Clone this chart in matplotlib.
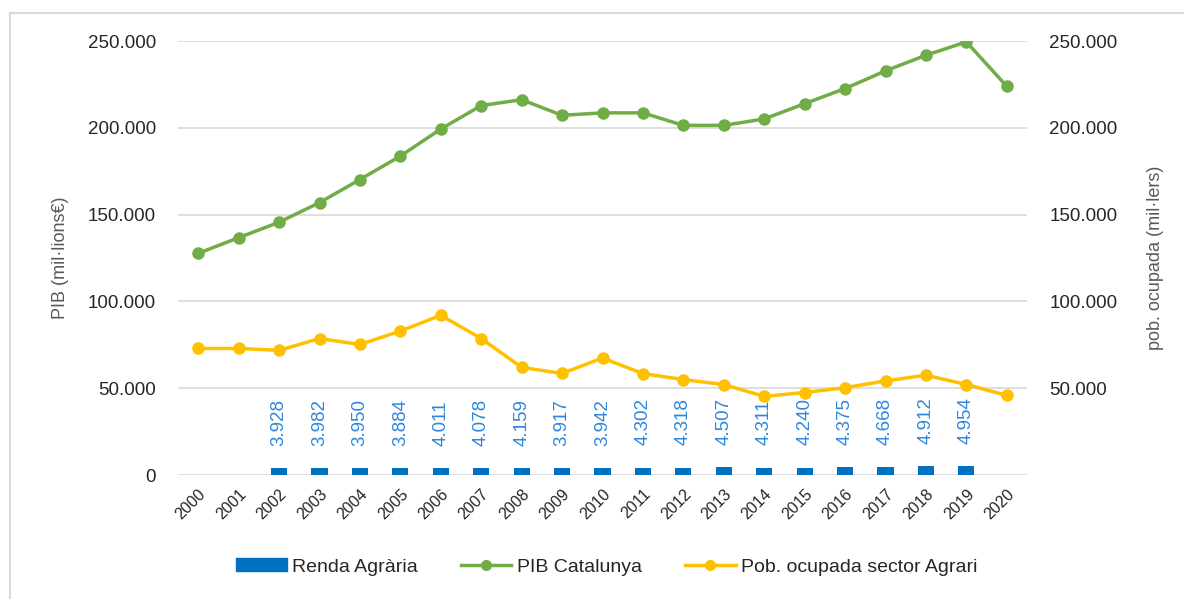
import matplotlib.pyplot as plt
from matplotlib.lines import Line2D
from matplotlib.ticker import FuncFormatter

# ---------------------------
# Data
# ---------------------------
years = [str(y) for y in range(2000, 2021)]

pib_catalunya = [127.7, 136.7, 145.6, 156.9, 170.2, 183.7, 199.3, 212.8, 216.2, 207.2,
                 208.6, 208.6, 201.4, 201.4, 205.1, 213.9, 222.6, 232.8, 241.8, 249.5, 223.9]
pib_catalunya = [v * 1000 for v in pib_catalunya]

pob_ocupada = [72.9, 72.9, 71.8, 78.6, 75.2, 82.9, 92.0, 78.6, 62.0, 58.5,
               67.4, 58.4, 55.0, 52.1, 45.3, 47.5, 50.3, 54.2, 57.5, 52.1, 45.9]
pob_ocupada = [v * 1000 for v in pob_ocupada]

renda_years = [str(y) for y in range(2002, 2020)]
renda_agraria = [3928, 3982, 3950, 3884, 4011, 4078, 4159, 3917, 3942, 4302,
                 4318, 4507, 4311, 4240, 4375, 4668, 4912, 4954]

# ---------------------------
# Style
# ---------------------------
plt.rcParams['font.family'] = ['Liberation Sans', 'DejaVu Sans']
BLUE = '#0070C0'
LABEL_BLUE = '#2E86DE'
GREEN = '#70AD47'
YELLOW = '#FFC000'
GRID = '#D9D9D9'
TXT = '#262626'
AXLAB = '#595959'


def thousands(v, pos=None):
    return f"{int(round(v)):,}".replace(',', '.')


fig = plt.figure(figsize=(11.84, 5.99), dpi=100)
ax = fig.add_axes([178 / 1184, 1 - 475 / 599, (1027 - 178) / 1184, (475 - 41) / 599])
ax2 = ax.twinx()

x = list(range(len(years)))
xr = [years.index(y) for y in renda_years]

ax.bar(xr, renda_agraria, width=0.4, color=BLUE, zorder=3)
for xi, v in zip(xr, renda_agraria):
    ax.annotate(thousands(v), (xi, v), xytext=(0, 16), textcoords='offset points',
                rotation=90, ha='center', va='bottom', color=LABEL_BLUE, fontsize=13.5)

ax.plot(x, pib_catalunya, color=GREEN, lw=2.5, marker='o', ms=8, zorder=4)
ax2.plot(x, pob_ocupada, color=YELLOW, lw=2.5, marker='o', ms=8, zorder=4)

for a in (ax, ax2):
    a.set_ylim(0, 250000)
    a.set_xlim(-0.5, len(years) - 0.5)
    for s in a.spines.values():
        s.set_visible(False)
    a.tick_params(length=0, labelsize=13.5, colors=TXT)
    a.yaxis.set_major_formatter(FuncFormatter(thousands))

ax.set_yticks([0, 50000, 100000, 150000, 200000, 250000])
ax2.set_yticks([50000, 100000, 150000, 200000, 250000])
ax.tick_params(axis='y', pad=16)
ax2.tick_params(axis='y', pad=16)
ax.grid(axis='y', color=GRID, lw=1.2, zorder=0)
ax.set_axisbelow(True)

ax.set_xticks(x)
ax.set_xticklabels(years, rotation=45, ha='right', rotation_mode='anchor', fontsize=11.5)
ax.tick_params(axis='x', pad=8)

ax.set_ylabel('PIB (mil·lions€)', fontsize=13, color=AXLAB, labelpad=13)
ax2.set_ylabel('pob. ocupada (mil·lers)', fontsize=13, color=AXLAB, labelpad=21)

handles = [
    plt.Rectangle((0, 0), 1, 1, color=BLUE),
    Line2D([], [], color=GREEN, lw=2.5, marker='o', ms=7),
    Line2D([], [], color=YELLOW, lw=2.5, marker='o', ms=7),
]
labels = ['Renda Agrària', 'PIB Catalunya', 'Pob. ocupada sector Agrari']
fig.legend(handles, labels, loc='center', bbox_to_anchor=(607 / 1184, 1 - 567 / 599), ncol=3,
           frameon=False, fontsize=14, handlelength=2.6, handleheight=0.6,
           columnspacing=2.2, handletextpad=0.3, labelcolor=TXT)

# chart area border (left and top edges visible)
fig.add_artist(Line2D([10 / 1184, 10 / 1184], [0, 1 - 13 / 599], transform=fig.transFigure,
                      color='#D9D9D9', lw=1.5))
fig.add_artist(Line2D([10 / 1184, 1], [1 - 13 / 599, 1 - 13 / 599], transform=fig.transFigure,
                      color='#D9D9D9', lw=1.5))

fig.savefig('out.png', dpi=100)
